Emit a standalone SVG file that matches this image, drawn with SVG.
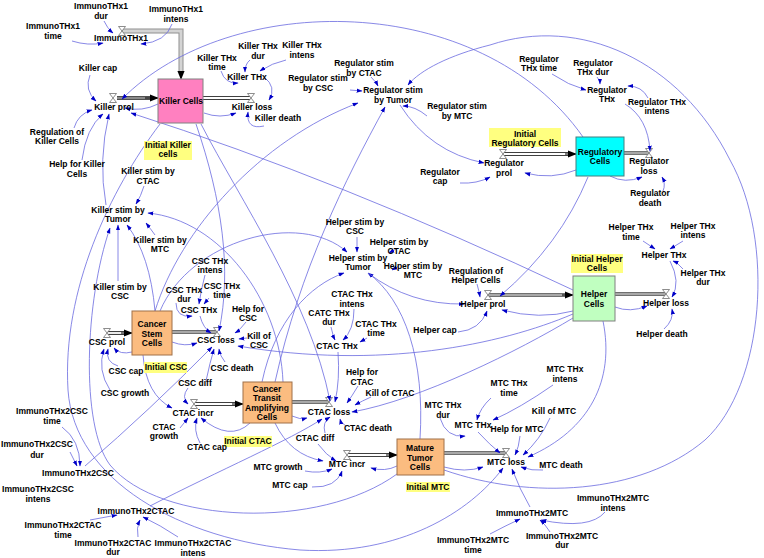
<svg xmlns="http://www.w3.org/2000/svg" width="764" height="558" viewBox="0 0 764 558">
<defs>
<style>
.t{font-family:"Liberation Sans",Arial,sans-serif;font-size:8.5px;font-weight:bold;text-anchor:middle;fill:#000}
.c{fill:none;stroke:#6a6ae0;stroke-width:0.8;marker-end:url(#a)}
.pd1{fill:none;stroke:#404040;stroke-width:4}
.pd2{fill:none;stroke:#fff;stroke-width:1.8}
.ps1{fill:none;stroke:#707070;stroke-width:4}
.ps2{fill:none;stroke:#a8a8a8;stroke-width:2.2}
.sh{fill:#ffff80}
.v{fill:#fff;stroke:#707070;stroke-width:0.8}
</style>
<marker id="a" viewBox="0 0 10 10" refX="9" refY="5" markerWidth="6" markerHeight="6" markerUnits="userSpaceOnUse" orient="auto"><path d="M0,1.5 L10,5 L0,8.5 z" fill="#0000c8"/></marker>
<marker id="p" viewBox="0 0 10 10" refX="9" refY="5" markerWidth="9" markerHeight="9" markerUnits="userSpaceOnUse" orient="auto"><path d="M0,1 L10,5 L0,9 z" fill="#000"/></marker>
<symbol id="vs" viewBox="-4 -5 8 10" width="8" height="10" overflow="visible"><path class="v" d="M-3.5,-4.5 H3.5 L-3.5,4.5 H3.5 Z"/></symbol>
</defs>
<rect width="764" height="558" fill="#fff"/>

<g id="pipes">
<path d="M122,31 H181 V72" fill="none" stroke="#909090" stroke-width="5"/><path d="M122,31 H181 V72" stroke="#d4d4d4" stroke-width="3" fill="none"/>
<path d="M181,70 L181,79" stroke="none" marker-end="url(#p)"/>
<path d="M117,98 H151" fill="none" stroke="#505050" stroke-width="4"/><path d="M117,98 H151" fill="none" stroke="#8a8a8a" stroke-width="2"/><path d="M145,98 H158" stroke="#000" marker-end="url(#p)"/>
<path class="pd1" d="M203,98 H251"/><path class="pd2" d="M203,98 H251"/>
<path class="pd1" d="M503,154 H569"/><path class="pd2" d="M503,154 H569"/><path d="M565,154 H576" stroke="#000" marker-end="url(#p)"/>
<path class="ps1" d="M624,153 H649"/><path class="ps2" d="M624,153 H649"/>
<path class="ps1" d="M488,295 H566"/><path class="ps2" d="M488,295 H566"/><path d="M562,295 H573" stroke="#000" marker-end="url(#p)"/>
<path class="ps1" d="M615,294 H666"/><path class="ps2" d="M615,294 H666"/>
<path class="pd1" d="M107,333 H125"/><path class="pd2" d="M107,333 H125"/><path d="M121,333 H132" stroke="#000" marker-end="url(#p)"/>
<path class="ps1" d="M172,332 H217"/><path class="ps2" d="M172,332 H217"/>
<path class="pd1" d="M194,404 H236"/><path class="pd2" d="M194,404 H236"/><path d="M232,404 H243" stroke="#000" marker-end="url(#p)"/>
<path class="ps1" d="M292,402 H329"/><path class="ps2" d="M292,402 H329"/>
<path class="pd1" d="M347,455 H390"/><path class="pd2" d="M347,455 H390"/><path d="M386,455 H397" stroke="#000" marker-end="url(#p)"/>
<path class="ps1" d="M444,453 H506"/><path class="ps2" d="M444,453 H506"/>
<use href="#vs" x="118" y="26"/>
<use href="#vs" x="109" y="93"/>
<use href="#vs" x="247" y="93"/>
<use href="#vs" x="499" y="149"/>
<use href="#vs" x="645" y="148"/>
<use href="#vs" x="484" y="290"/>
<use href="#vs" x="662" y="289"/>
<use href="#vs" x="103" y="328"/>
<use href="#vs" x="213" y="327"/>
<use href="#vs" x="190" y="399"/>
<use href="#vs" x="325" y="397"/>
<use href="#vs" x="343" y="450"/>
<use href="#vs" x="502" y="448"/>
</g>

<g id="connectors">
<path class="c" d="M104,21 Q107,28 113,33"/>
<path class="c" d="M72,41 Q88,46 103,43"/>
<path class="c" d="M172,24 Q166,42 141,44"/>
<path class="c" d="M90,75 Q84,90 96,101"/>
<path class="c" d="M158,104 Q142,112 125,108"/>
<path class="c" d="M74,128 Q78,114 92,110"/>
<path class="c" d="M82,160 Q86,128 103,114"/>
<path class="c" d="M106,205 Q98,160 109,114"/>
<path class="c" d="M583,137 C480,-10 230,-10 122,99"/>
<path class="c" d="M444,470 C530,500 640,495 705,440 C765,385 775,240 730,160 C680,60 580,15 490,45 C450,55 420,70 408,85"/>
<path class="c" d="M221,71 Q225,84 238,83"/>
<path class="c" d="M250,60 Q245,64 245,72"/>
<path class="c" d="M286,60 Q272,63 260,71"/>
<path class="c" d="M264,77 Q277,87 269,100"/>
<path class="c" d="M264,126 Q246,130 248,112"/>
<path class="c" d="M204,113 Q220,119 236,113"/>
<path class="c" d="M144,186 Q141,196 136,204"/>
<path class="c" d="M155,235 Q150,228 146,223"/>
<path class="c" d="M118,281 L118,225"/>
<path class="c" d="M155,311 Q150,255 127,225"/>
<path class="c" d="M283,382 C280,300 220,220 148,213"/>
<path class="c" d="M397,474 C320,530 160,525 110,465 C80,425 85,300 110,228"/>
<path class="c" d="M160,124 C110,190 62,290 68,390 C74,480 180,540 300,550 C400,556 470,512 503,468"/>
<path class="c" d="M196,124 C222,200 232,270 219,331"/>
<path class="c" d="M201,124 C240,200 310,300 330,401"/>
<path class="c" d="M371,77 Q376,82 378,86"/>
<path class="c" d="M350,90 L362,91"/>
<path class="c" d="M427,116 Q415,106 403,106"/>
<path class="c" d="M400,105 Q430,152 484,163"/>
<path class="c" d="M460,183 Q477,184 490,177"/>
<path class="c" d="M576,170 Q552,180 525,173"/>
<path class="c" d="M610,176 Q625,184 642,177"/>
<path class="c" d="M625,104 Q648,118 650,151"/>
<path class="c" d="M663,191 Q666,184 662,177"/>
<path class="c" d="M552,74 Q568,85 586,90"/>
<path class="c" d="M597,77 Q600,80 600,84"/>
<path class="c" d="M648,98 Q642,86 628,86"/>
<path class="c" d="M588,177 Q560,245 500,296"/>
<path class="c" d="M155,311 C180,230 260,140 358,103"/>
<path class="c" d="M275,382 C300,270 345,180 385,107"/>
<path class="c" d="M160,311 C190,240 300,210 347,252"/>
<path class="c" d="M262,382 C275,320 310,285 344,273"/>
<path class="c" d="M420,439 C425,360 405,300 368,273"/>
<path class="c" d="M357,237 L357,252"/>
<path class="c" d="M396,249 L389,253"/>
<path class="c" d="M399,266 L392,270"/>
<path class="c" d="M368,273 Q410,305 464,304"/>
<path class="c" d="M477,284 Q479,291 480,297"/>
<path class="c" d="M458,332 Q480,330 487,311"/>
<path class="c" d="M573,311 Q540,320 502,310"/>
<path class="c" d="M615,307 Q630,313 647,306"/>
<path class="c" d="M670,261 Q681,282 672,297"/>
<path class="c" d="M664,329 Q674,320 672,309"/>
<path class="c" d="M643,241 L655,249"/>
<path class="c" d="M683,241 L670,249"/>
<path class="c" d="M683,269 Q678,263 673,261"/>
<path class="c" d="M573,290 Q340,180 131,113"/>
<path class="c" d="M573,314 C500,345 380,370 238,346"/>
<path class="c" d="M573,318 C520,350 420,400 352,412"/>
<path class="c" d="M603,321 C615,380 590,430 528,457"/>
<path class="c" d="M205,275 Q201,290 199,304"/>
<path class="c" d="M176,303 Q176,318 192,316"/>
<path class="c" d="M209,298 L204,304"/>
<path class="c" d="M200,316 Q203,328 211,333"/>
<path class="c" d="M246,322 Q240,330 235,333"/>
<path class="c" d="M247,338 L239,339"/>
<path class="c" d="M172,342 Q185,347 197,343"/>
<path class="c" d="M132,352 Q120,355 114,348"/>
<path class="c" d="M118,366 Q105,362 108,349"/>
<path class="c" d="M110,390 Q97,370 104,349"/>
<path class="c" d="M225,362 Q220,356 219,349"/>
<path class="c" d="M206,381 Q210,362 214,349"/>
<path class="c" d="M188,388 Q181,397 188,404"/>
<path class="c" d="M143,355 Q146,395 172,408"/>
<path class="c" d="M180,428 L188,418"/>
<path class="c" d="M200,443 Q193,430 197,418"/>
<path class="c" d="M250,423 Q230,442 201,418"/>
<path class="c" d="M85,466 Q150,410 212,347"/>
<path class="c" d="M354,309 Q354,330 343,340"/>
<path class="c" d="M331,327 Q333,336 335,340"/>
<path class="c" d="M367,338 L360,342"/>
<path class="c" d="M338,352 Q340,380 335,402"/>
<path class="c" d="M358,386 Q352,396 347,403"/>
<path class="c" d="M371,397 Q362,401 355,405"/>
<path class="c" d="M346,426 Q341,423 340,419"/>
<path class="c" d="M325,433 Q322,422 330,417"/>
<path class="c" d="M318,444 Q326,455 336,461"/>
<path class="c" d="M292,416 Q300,420 307,418"/>
<path class="c" d="M275,423 Q290,455 323,461"/>
<path class="c" d="M305,471 Q320,474 332,469"/>
<path class="c" d="M312,487 Q336,488 342,471"/>
<path class="c" d="M397,466 Q385,472 371,468"/>
<path class="c" d="M444,467 Q465,473 483,467"/>
<path class="c" d="M550,418 Q540,440 523,455"/>
<path class="c" d="M520,436 Q519,447 515,455"/>
<path class="c" d="M478,432 Q490,445 500,453"/>
<path class="c" d="M530,507 Q520,490 512,469"/>
<path class="c" d="M543,470 Q532,471 521,467"/>
<path class="c" d="M440,418 Q446,438 465,436"/>
<path class="c" d="M491,398 Q480,408 477,420"/>
<path class="c" d="M553,385 Q520,408 493,420"/>
<path class="c" d="M490,534 Q505,526 520,519"/>
<path class="c" d="M550,532 Q545,524 540,520"/>
<path class="c" d="M605,512 Q590,530 541,520"/>
<path class="c" d="M62,427 Q80,440 80,466"/>
<path class="c" d="M70,452 L77,466"/>
<path class="c" d="M150,506 C220,470 290,440 322,419"/>
<path class="c" d="M90,520 L117,515"/>
<path class="c" d="M138,537 Q136,528 140,520"/>
<path class="c" d="M178,537 Q160,525 143,517"/>
</g>

<g id="killer_cells"><rect x="158" y="79" width="45" height="44" fill="#ff80c0" stroke="#808080"/><text class="t" x="181" y="104">Killer Cells</text></g>
<g id="regulatory_cells"><rect x="576" y="137" width="48" height="39" fill="#00ffff" stroke="#408080"/><text class="t" x="600" y="155">Regulatory</text><text class="t" x="600" y="164">Cells</text></g>
<g id="helper_cells"><rect x="573" y="276" width="42" height="45" fill="#c0ffc0" stroke="#808080"/><text class="t" x="594" y="297">Helper</text><text class="t" x="594" y="307">Cells</text></g>
<g id="cancer_stem_cells"><rect x="132" y="311" width="40" height="44" fill="#fbbc80" stroke="#a07048"/><text class="t" x="152" y="327">Cancer</text><text class="t" x="152" y="337">Stem</text><text class="t" x="152" y="346">Cells</text></g>
<g id="ctac_cells"><rect x="243" y="382" width="49" height="41" fill="#fbbc80" stroke="#a07048"/><text class="t" x="267" y="392">Cancer</text><text class="t" x="267" y="401">Transit</text><text class="t" x="267" y="411">Amplifying</text><text class="t" x="267" y="420">Cells</text></g>
<g id="mature_tumor_cells"><rect x="397" y="439" width="47" height="36" fill="#fbbc80" stroke="#a07048"/><text class="t" x="420" y="451">Mature</text><text class="t" x="420" y="461">Tumor</text><text class="t" x="420" y="470">Cells</text></g>

<g id="initial_killer"><rect class="sh" x="144" y="141" width="48" height="19"/><text class="t" x="168" y="148">Initial Killer</text><text class="t" x="168" y="157">cells</text></g>
<g id="initial_regulatory"><rect class="sh" x="489" y="128" width="72" height="19"/><text class="t" x="525" y="137">Initial</text><text class="t" x="525" y="146">Regulatory Cells</text></g>
<g id="initial_helper"><rect class="sh" x="571" y="254" width="52" height="19"/><text class="t" x="597" y="262">Initial Helper</text><text class="t" x="597" y="271">Cells</text></g>
<g id="initial_csc"><rect class="sh" x="144" y="362" width="43" height="11"/><text class="t" x="166" y="370">Initial CSC</text></g>
<g id="initial_ctac"><rect class="sh" x="224" y="436" width="48" height="11"/><text class="t" x="248" y="444">Initial CTAC</text></g>
<g id="initial_mtc"><rect class="sh" x="406" y="482" width="44" height="10"/><text class="t" x="428" y="490">Initial MTC</text></g>

<g id="immunothx1_dur"><text class="t" x="101" y="9">ImmunoTHx1</text><text class="t" x="101" y="19">dur</text></g>
<g id="immunothx1_intens"><text class="t" x="176" y="12">ImmunoTHx1</text><text class="t" x="176" y="22">intens</text></g>
<g id="immunothx1_time"><text class="t" x="53" y="29">ImmunoTHx1</text><text class="t" x="53" y="39">time</text></g>
<g id="immunothx1"><text class="t" x="121" y="41">ImmunoTHx1</text></g>
<g id="killer_cap"><text class="t" x="98" y="71">Killer cap</text></g>
<g id="killer_prol"><text class="t" x="114" y="110">Killer prol</text></g>
<g id="regulation_killer"><text class="t" x="57" y="135">Regulation of</text><text class="t" x="57" y="144">Killer Cells</text></g>
<g id="help_killer"><text class="t" x="77" y="167">Help for Killer</text><text class="t" x="77" y="177">Cells</text></g>
<g id="killer_stim_ctac"><text class="t" x="148" y="174">Killer stim by</text><text class="t" x="148" y="184">CTAC</text></g>
<g id="killer_thx_time"><text class="t" x="217" y="61">Killer THx</text><text class="t" x="217" y="70">time</text></g>
<g id="killer_thx_dur"><text class="t" x="258" y="49">Killer THx</text><text class="t" x="258" y="59">dur</text></g>
<g id="killer_thx_intens"><text class="t" x="302" y="48">Killer THx</text><text class="t" x="302" y="58">intens</text></g>
<g id="killer_thx"><text class="t" x="247" y="80">Killer THx</text></g>
<g id="killer_loss"><text class="t" x="252" y="110">Killer loss</text></g>
<g id="killer_death"><text class="t" x="278" y="121">Killer death</text></g>
<g id="reg_stim_ctac"><text class="t" x="364" y="66">Regulator stim</text><text class="t" x="364" y="76">by CTAC</text></g>
<g id="reg_stim_csc"><text class="t" x="318" y="81">Regulator stim</text><text class="t" x="318" y="91">by CSC</text></g>
<g id="reg_stim_tumor"><text class="t" x="393" y="93">Regulator stim</text><text class="t" x="393" y="103">by Tumor</text></g>
<g id="reg_stim_mtc"><text class="t" x="457" y="109">Regulator stim</text><text class="t" x="457" y="119">by MTC</text></g>
<g id="regulator_cap"><text class="t" x="440" y="175">Regulator</text><text class="t" x="440" y="184">cap</text></g>
<g id="regulator_prol"><text class="t" x="504" y="166">Regulator</text><text class="t" x="504" y="176">prol</text></g>
<g id="reg_thx_time"><text class="t" x="539" y="62">Regulator</text><text class="t" x="539" y="71">THx time</text></g>
<g id="reg_thx_dur"><text class="t" x="593" y="66">Regulator</text><text class="t" x="593" y="75">THx dur</text></g>
<g id="reg_thx"><text class="t" x="607" y="93">Regulator</text><text class="t" x="607" y="102">THx</text></g>
<g id="reg_thx_intens"><text class="t" x="657" y="105">Regulator THx</text><text class="t" x="657" y="114">intens</text></g>
<g id="regulator_loss"><text class="t" x="649" y="164">Regulator</text><text class="t" x="649" y="174">loss</text></g>
<g id="regulator_death"><text class="t" x="650" y="196">Regulator</text><text class="t" x="650" y="206">death</text></g>
<g id="killer_stim_tumor"><text class="t" x="118" y="213">Killer stim by</text><text class="t" x="118" y="222">Tumor</text></g>
<g id="killer_stim_mtc"><text class="t" x="160" y="243">Killer stim by</text><text class="t" x="160" y="252">MTC</text></g>
<g id="killer_stim_csc"><text class="t" x="120" y="290">Killer stim by</text><text class="t" x="120" y="299">CSC</text></g>
<g id="csc_thx_intens"><text class="t" x="210" y="264">CSC THx</text><text class="t" x="210" y="273">intens</text></g>
<g id="csc_thx_dur"><text class="t" x="184" y="293">CSC THx</text><text class="t" x="184" y="302">dur</text></g>
<g id="csc_thx_time"><text class="t" x="222" y="289">CSC THx</text><text class="t" x="222" y="298">time</text></g>
<g id="csc_thx"><text class="t" x="199" y="313">CSC THx</text></g>
<g id="help_csc"><text class="t" x="248" y="312">Help for</text><text class="t" x="248" y="321">CSC</text></g>
<g id="kill_csc"><text class="t" x="259" y="339">Kill of</text><text class="t" x="259" y="348">CSC</text></g>
<g id="csc_loss"><text class="t" x="216" y="343">CSC loss</text></g>
<g id="csc_prol"><text class="t" x="107" y="345">CSC prol</text></g>
<g id="csc_cap"><text class="t" x="126" y="374">CSC cap</text></g>
<g id="csc_growth"><text class="t" x="125" y="396">CSC growth</text></g>
<g id="csc_death"><text class="t" x="232" y="371">CSC death</text></g>
<g id="csc_diff"><text class="t" x="195" y="386">CSC diff</text></g>
<g id="ctac_incr"><text class="t" x="193" y="416">CTAC incr</text></g>
<g id="ctac_growth"><text class="t" x="164" y="430">CTAC</text><text class="t" x="164" y="439">growth</text></g>
<g id="ctac_cap"><text class="t" x="207" y="450">CTAC cap</text></g>
<g id="immuno2csc_time"><text class="t" x="52" y="414">ImmunoTHx2CSC</text><text class="t" x="52" y="424">time</text></g>
<g id="immuno2csc_dur"><text class="t" x="37" y="447">ImmunoTHx2CSC</text><text class="t" x="37" y="458">dur</text></g>
<g id="immuno2csc"><text class="t" x="78" y="476">ImmunoTHx2CSC</text></g>
<g id="immuno2csc_intens"><text class="t" x="38" y="492">ImmunoTHx2CSC</text><text class="t" x="38" y="502">intens</text></g>
<g id="immuno2ctac"><text class="t" x="136" y="514">ImmunoTHx2CTAC</text></g>
<g id="immuno2ctac_time"><text class="t" x="63" y="528">ImmunoTHx2CTAC</text><text class="t" x="63" y="538">time</text></g>
<g id="immuno2ctac_dur"><text class="t" x="113" y="546">ImmunoTHx2CTAC</text><text class="t" x="113" y="555">dur</text></g>
<g id="immuno2ctac_intens"><text class="t" x="193" y="546">ImmunoTHx2CTAC</text><text class="t" x="193" y="556">intens</text></g>
<g id="helper_stim_csc"><text class="t" x="355" y="225">Helper stim by</text><text class="t" x="355" y="234">CSC</text></g>
<g id="helper_stim_ctac"><text class="t" x="399" y="245">Helper stim by</text><text class="t" x="399" y="254">CTAC</text></g>
<g id="helper_stim_tumor"><text class="t" x="358" y="261">Helper stim by</text><text class="t" x="358" y="270">Tumor</text></g>
<g id="helper_stim_mtc"><text class="t" x="413" y="269">Helper stim by</text><text class="t" x="413" y="278">MTC</text></g>
<g id="regulation_helper"><text class="t" x="476" y="274">Regulation of</text><text class="t" x="476" y="283">Helper Cells</text></g>
<g id="helper_prol"><text class="t" x="483" y="307">Helper prol</text></g>
<g id="helper_cap"><text class="t" x="435" y="333">Helper cap</text></g>
<g id="ctac_thx_intens"><text class="t" x="352" y="297">CTAC THx</text><text class="t" x="352" y="307">intens</text></g>
<g id="catc_thx_dur"><text class="t" x="329" y="316">CATC THx</text><text class="t" x="329" y="325">dur</text></g>
<g id="ctac_thx_time"><text class="t" x="376" y="327">CTAC THx</text><text class="t" x="376" y="336">time</text></g>
<g id="ctac_thx"><text class="t" x="337" y="349">CTAC THx</text></g>
<g id="helper_thx_time"><text class="t" x="631" y="230">Helper THx</text><text class="t" x="631" y="240">time</text></g>
<g id="helper_thx_intens"><text class="t" x="693" y="229">Helper THx</text><text class="t" x="693" y="238">intens</text></g>
<g id="helper_thx"><text class="t" x="664" y="258">Helper THx</text></g>
<g id="helper_thx_dur"><text class="t" x="703" y="276">Helper THx</text><text class="t" x="703" y="285">dur</text></g>
<g id="helper_loss"><text class="t" x="666" y="306">Helper loss</text></g>
<g id="helper_death"><text class="t" x="662" y="337">Helper death</text></g>
<g id="help_ctac"><text class="t" x="362" y="375">Help for</text><text class="t" x="362" y="385">CTAC</text></g>
<g id="kill_ctac"><text class="t" x="390" y="396">Kill of CTAC</text></g>
<g id="ctac_loss"><text class="t" x="329" y="415">CTAC loss</text></g>
<g id="ctac_death"><text class="t" x="368" y="431">CTAC death</text></g>
<g id="ctac_diff"><text class="t" x="315" y="441">CTAC diff</text></g>
<g id="mtc_growth"><text class="t" x="278" y="470">MTC growth</text></g>
<g id="mtc_cap"><text class="t" x="290" y="488">MTC cap</text></g>
<g id="mtc_incr"><text class="t" x="347" y="467">MTC incr</text></g>
<g id="mtc_thx_dur"><text class="t" x="443" y="408">MTC THx</text><text class="t" x="443" y="418">dur</text></g>
<g id="mtc_thx_time"><text class="t" x="509" y="386">MTC THx</text><text class="t" x="509" y="396">time</text></g>
<g id="mtc_thx"><text class="t" x="473" y="428">MTC THx</text></g>
<g id="help_mtc"><text class="t" x="517" y="432">Help for MTC</text></g>
<g id="mtc_thx_intens"><text class="t" x="565" y="372">MTC THx</text><text class="t" x="565" y="382">intens</text></g>
<g id="kill_mtc"><text class="t" x="554" y="414">Kill of MTC</text></g>
<g id="mtc_loss"><text class="t" x="506" y="465">MTC loss</text></g>
<g id="mtc_death"><text class="t" x="561" y="468">MTC death</text></g>
<g id="immuno2mtc_intens"><text class="t" x="613" y="501">ImmunoTHx2MTC</text><text class="t" x="613" y="511">intens</text></g>
<g id="immuno2mtc"><text class="t" x="532" y="516">ImmunoTHx2MTC</text></g>
<g id="immuno2mtc_dur"><text class="t" x="562" y="539">ImmunoTHx2MTC</text><text class="t" x="562" y="548">dur</text></g>
<g id="immuno2mtc_time"><text class="t" x="473" y="543">ImmunoTHx2MTC</text><text class="t" x="473" y="553">time</text></g>
</svg>
